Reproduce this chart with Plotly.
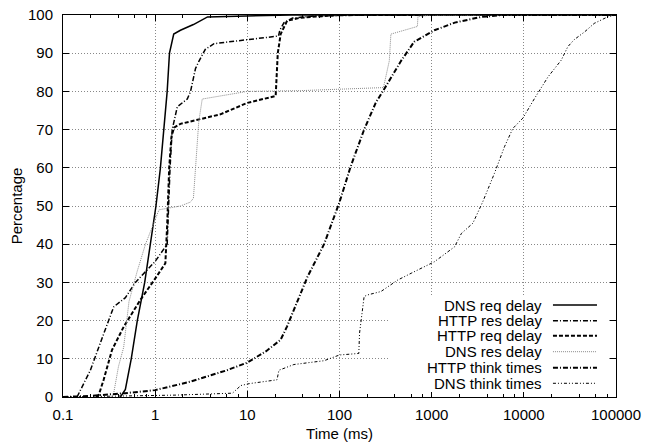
import plotly.graph_objects as go

# ---- data ----
dns_req_x = [0.42, 0.475, 0.55, 0.64, 0.77, 0.89, 1.02, 1.14, 1.25, 1.35, 1.43, 1.59, 1.88, 2.6, 3.7, 10, 30, 100000]
dns_req_y = [0, 2, 10, 20, 30, 40, 50, 60, 70, 80, 90, 95, 96, 97.5, 99.5, 99.7, 100, 100]

http_res_x = [0.142, 0.198, 0.276, 0.355, 0.475, 0.61, 1.0, 1.35, 1.45, 1.53, 1.74, 2.23, 2.42, 2.74, 3.0, 3.5, 4.35, 10, 21.8, 22.5, 25, 31, 50, 200, 100000]
http_res_y = [0, 7, 16.5, 23.6, 26, 30, 35.5, 40, 60, 70, 76, 78, 80, 86, 88, 91, 92.5, 93.5, 94.5, 96, 98, 99.2, 99.7, 100, 100]

http_req_x = [0.23, 0.244, 0.276, 0.34, 0.456, 0.69, 1.0, 1.29, 1.35, 1.42, 1.5, 1.6, 1.88, 3.37, 5.1, 10, 20.3, 21.4, 23, 27, 38, 100, 100000]
http_req_y = [0, 0.5, 4.5, 12.3, 18.4, 25.4, 31, 35, 45, 60, 68, 70.5, 71.5, 73, 74, 77, 78.8, 90, 95, 98.5, 99.3, 100, 100]

dns_res_x = [0.33, 0.355, 0.4, 0.455, 0.52, 0.64, 0.785, 0.97, 1.1, 1.88, 2.4, 2.6, 2.97, 3.24, 6.0, 10, 38, 300, 347, 361, 700, 710, 1000, 100000]
dns_res_y = [0, 1, 8, 13, 25, 33, 40, 46, 49, 50, 51, 52, 72, 78, 79, 80, 80.2, 81, 88, 95, 97, 99.6, 100, 100]

http_think_x = [0.1, 0.2, 0.475, 1.0, 2.4, 6, 10, 16, 23, 27, 45, 68, 100, 132, 185, 247, 331, 466, 646, 1070, 1780, 3450, 6000, 100000]
http_think_y = [0, 0.3, 1, 1.8, 4, 7, 9, 12, 15, 18.5, 31.5, 40, 51, 60.3, 70, 77, 82, 88, 93, 96, 98, 99.5, 100, 100]

dns_think_x = [0.1, 1.7, 6.9, 8.5, 10.5, 21, 22, 32, 68, 100, 162, 165, 185, 200, 281, 427, 600, 1070, 1770, 2100, 2800, 3570, 4790, 6160, 7600, 9760, 13100, 18300, 25500, 30000, 35000, 45700, 58000, 81000, 100000]
dns_think_y = [0, 0.5, 1, 3, 3.5, 4.5, 7, 8.5, 9.5, 11, 11.4, 16.7, 26.3, 26.7, 27.6, 30.6, 32.4, 35.4, 39.3, 42.8, 45.5, 51, 58.5, 65.5, 70.3, 73, 78.2, 83.8, 88.2, 91.7, 93.5, 95.6, 97.8, 99.5, 100]

names = ["DNS req delay", "HTTP res delay", "HTTP req delay", "DNS res delay", "HTTP think times", "DNS think times"]
xtick_vals = [0.1, 1, 10, 100, 1000, 10000, 100000]
xtick_text = ["0.1", "1", "10", "100", "1000", "10000", "100000"]
ytick_vals = [0, 10, 20, 30, 40, 50, 60, 70, 80, 90, 100]

styles = [
    dict(color="black", width=1.5, dash="solid"),
    dict(color="black", width=1.5, dash="5px,2px,1px,2px"),
    dict(color="black", width=2, dash="4px,2px"),
    dict(color="#8a8a8a", width=1, dash="1px,1px"),
    dict(color="black", width=2, dash="5px,2px,1px,2px"),
    dict(color="black", width=1, dash="3px,2px,1px,2px,1px,2px"),
]

series = [(dns_req_x, dns_req_y), (http_res_x, http_res_y), (http_req_x, http_req_y),
          (dns_res_x, dns_res_y), (http_think_x, http_think_y), (dns_think_x, dns_think_y)]

fig = go.Figure()
for (xs, ys), nm, st in zip(series, names, styles):
    fig.add_trace(go.Scatter(x=xs, y=ys, mode="lines", name=nm, line=st, showlegend=False))

FONT = "Liberation Sans, Arial, Helvetica, sans-serif"

# custom legend (text right-aligned, sample line to the right)
shapes = [dict(type="rect", xref="paper", yref="paper", x0=0.591, x1=0.9855, y0=0.013, y1=0.2644,
               fillcolor="white", line=dict(width=0), layer="above")]
annotations = []
row_y = [0.2408, 0.1997, 0.1605, 0.1186, 0.0767, 0.0359]
for nm, st, yy in zip(names, styles, row_y):
    annotations.append(dict(text=nm, xref="paper", yref="paper", x=0.868, y=yy, xanchor="right",
                            yanchor="middle", showarrow=False, borderpad=0,
                            font=dict(size=15, color="black", family=FONT)))
    shapes.append(dict(type="line", xref="paper", yref="paper", x0=0.886, x1=0.9656, y0=yy, y1=yy,
                       line=st, layer="above"))

minor_vals = [m * 10 ** e for e in range(-1, 5) for m in (2, 4, 6, 8)]
GRID = dict(showgrid=True, gridcolor="#888888", griddash="1px,2px", gridwidth=1)

fig.update_layout(
    width=662, height=446,
    margin=dict(l=63, r=46, t=15, b=49, autoexpand=False),
    plot_bgcolor="white", paper_bgcolor="white",
    font=dict(family=FONT, size=15, color="black"),
    shapes=shapes, annotations=annotations,
    showlegend=False,
    xaxis=dict(type="log", range=[-1, 5], tickvals=xtick_vals, ticktext=xtick_text,
               ticks="inside", ticklen=6, tickcolor="black", mirror="allticks",
               showline=True, linecolor="black", linewidth=1, automargin=False,
               zeroline=False, ticklabelstandoff=4,
               minor=dict(tickvals=minor_vals, ticks="inside", ticklen=3, tickcolor="black", showgrid=False),
               title=dict(text="Time (ms)", font=dict(size=15), standoff=6),
               tickfont=dict(size=15), **GRID),
    yaxis=dict(range=[0, 100], tickvals=ytick_vals,
               ticks="inside", ticklen=6, tickcolor="black", mirror="allticks",
               showline=True, linecolor="black", linewidth=1, automargin=False,
               zeroline=False, ticklabelstandoff=6,
               title=dict(text="Percentage", font=dict(size=15), standoff=1),
               tickfont=dict(size=15), **GRID),
)

fig.write_html("out.html", config={"displayModeBar": False},
               post_script="document.body.style.margin='0';document.body.style.overflow='hidden';")
